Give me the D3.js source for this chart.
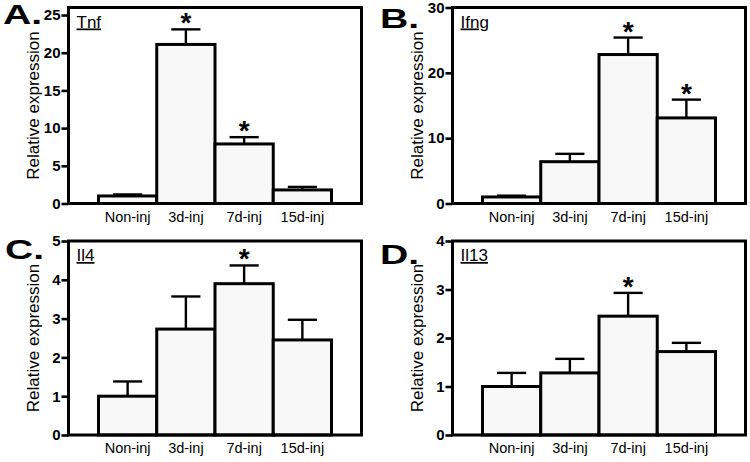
<!DOCTYPE html>
<html>
<head>
<meta charset="utf-8">
<script src="https://cdn.jsdelivr.net/npm/d3@7"></script>
<style>
  html, body { margin: 0; padding: 0; background: #fff; }
  svg { display: block; }
  text { font-family: "Liberation Sans", Arial, Helvetica, sans-serif; }
</style>
</head>
<body>
<svg id="chart" width="750" height="462"></svg>
<script>
// ---- Data ----
const categories = ["Non-inj", "3d-inj", "7d-inj", "15d-inj"];

const tnfValues  = [1.0, 21.1, 7.9, 1.8];
const tnfErrors  = [0.2, 2.0, 0.9, 0.4];
const tnfSig     = [false, true, true, false];
const tnfTicks   = [0, 5, 10, 15, 20, 25];

const ifngValues = [1.0, 6.4, 22.8, 13.1];
const ifngErrors = [0.2, 1.2, 2.6, 2.8];
const ifngSig    = [false, false, true, true];
const ifngTicks  = [0, 10, 20, 30];

const il4Values  = [1.0, 2.73, 3.9, 2.45];
const il4Errors  = [0.38, 0.84, 0.47, 0.52];
const il4Sig     = [false, false, true, false];
const il4Ticks   = [0, 1, 2, 3, 4, 5];

const il13Values = [1.0, 1.28, 2.45, 1.72];
const il13Errors = [0.28, 0.29, 0.48, 0.18];
const il13Sig    = [false, false, true, false];
const il13Ticks  = [0, 1, 2, 3, 4];

const panelLetters = ["A.", "B.", "C.", "D."];
const geneNames = ["Tnf", "Ifng", "Il4", "Il13"];
const yTitle = "Relative expression";

// ---- Panels (layout) ----
const panels = [
  { letter: panelLetters[0], gene: geneNames[0], values: tnfValues, errors: tnfErrors, sig: tnfSig, ticks: tnfTicks, yMax: 26,
    left: 68.5, right: 361.5, top: 7.5, bottom: 203.5, lx: 3, ly: 23.5 },
  { letter: panelLetters[1], gene: geneNames[1], values: ifngValues, errors: ifngErrors, sig: ifngSig, ticks: ifngTicks, yMax: 30,
    left: 452.5, right: 745.5, top: 7.5, bottom: 203.5, lx: 380, ly: 28 },
  { letter: panelLetters[2], gene: geneNames[2], values: il4Values, errors: il4Errors, sig: il4Sig, ticks: il4Ticks, yMax: 5,
    left: 68.5, right: 361.5, top: 241, bottom: 435, lx: 5, ly: 259 },
  { letter: panelLetters[3], gene: geneNames[3], values: il13Values, errors: il13Errors, sig: il13Sig, ticks: il13Ticks, yMax: 4,
    left: 452.5, right: 745.5, top: 241, bottom: 435, lx: 380, ly: 264 }
];

const svg = d3.select("#chart");

panels.forEach(p => {
  const g = svg.append("g");
  const x = d3.scaleBand().domain(categories).range([p.left + 30, p.right - 30]).paddingInner(0).paddingOuter(0);
  const y = d3.scaleLinear().domain([0, p.yMax]).range([p.bottom, p.top]);
  const data = categories.map((c, i) => ({ c, v: p.values[i], e: p.errors[i], s: p.sig[i] }));

  // error bars
  const capW = x.bandwidth() / 2;
  const eb = g.append("g").attr("stroke", "#000").attr("stroke-width", 2.4).attr("fill", "none");
  data.forEach(d => {
    const cx = x(d.c) + x.bandwidth() / 2;
    eb.append("line").attr("x1", cx).attr("x2", cx).attr("y1", y(d.v)).attr("y2", y(d.v + d.e));
    eb.append("line").attr("x1", cx - capW / 2).attr("x2", cx + capW / 2).attr("y1", y(d.v + d.e)).attr("y2", y(d.v + d.e));
  });

  // bars
  g.append("g").selectAll("rect").data(data).join("rect")
    .attr("x", d => x(d.c))
    .attr("width", x.bandwidth())
    .attr("y", d => y(d.v))
    .attr("height", d => y(0) - y(d.v))
    .attr("fill", "#f8f8f8")
    .attr("stroke", "#000")
    .attr("stroke-width", 3);

  // asterisks
  g.append("g").selectAll("text").data(data.filter(d => d.s)).join("text")
    .attr("x", d => x(d.c) + x.bandwidth() / 2)
    .attr("y", d => y(d.v + d.e) + 3)
    .attr("text-anchor", "middle")
    .attr("font-size", 28)
    .attr("font-weight", "bold")
    .text("*");

  // frame
  g.append("rect")
    .attr("x", p.left).attr("y", p.top)
    .attr("width", p.right - p.left).attr("height", p.bottom - p.top)
    .attr("fill", "none").attr("stroke", "#000").attr("stroke-width", 3);

  // y axis
  const ya = g.append("g").attr("transform", `translate(${p.left},0)`)
    .call(d3.axisLeft(y).tickValues(p.ticks).tickSize(7).tickPadding(1).tickFormat(d3.format("d")));
  ya.select(".domain").remove();
  ya.selectAll(".tick line").attr("stroke", "#000").attr("stroke-width", 2.6);
  ya.selectAll(".tick text")
    .attr("fill", "#000")
    .attr("font-family", "'Liberation Sans', Arial, sans-serif")
    .attr("font-size", 15)
    .attr("font-weight", "bold");

  // x axis labels
  const xa = g.append("g").attr("transform", `translate(0,${p.bottom})`)
    .call(d3.axisBottom(x).tickSize(0).tickPadding(8));
  xa.select(".domain").remove();
  xa.selectAll(".tick text")
    .attr("fill", "#000")
    .attr("font-family", "'Liberation Sans', Arial, sans-serif")
    .attr("font-size", 14.5);

  // y title
  g.append("text")
    .attr("transform", `translate(${p.left - 35},${(p.top + p.bottom) / 2}) rotate(-90)`)
    .attr("text-anchor", "middle")
    .attr("dy", "0.35em")
    .attr("font-size", 17)
    .text(yTitle);

  // gene label
  g.append("text")
    .attr("x", p.left + 8)
    .attr("y", p.top + 20)
    .attr("font-size", 17)
    .attr("text-decoration", "underline")
    .text(p.gene);

  // panel letter
  g.append("text")
    .attr("transform", `translate(${p.lx},${p.ly}) scale(1.45,1)`)
    .attr("font-size", 27)
    .attr("font-weight", "bold")
    .text(p.letter);
});
</script>
</body>
</html>
